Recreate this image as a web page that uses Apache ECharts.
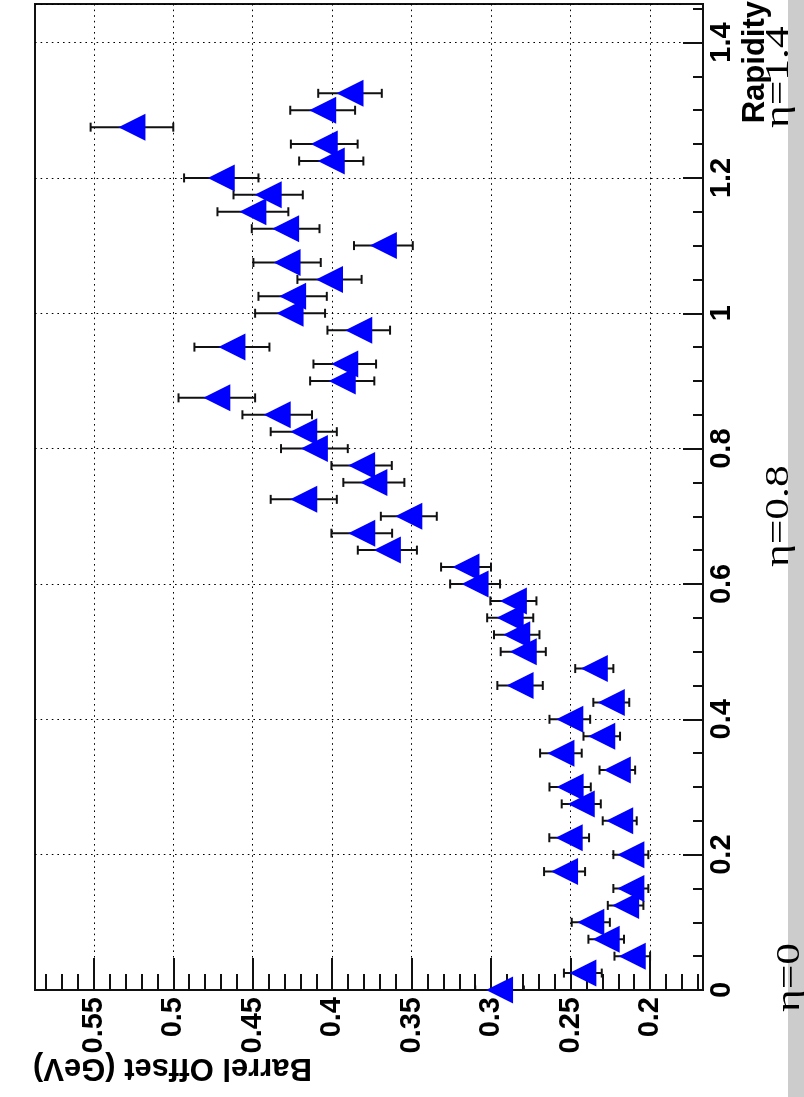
<!DOCTYPE html>
<html>
<head>
<meta charset="utf-8">
<script src="https://cdn.jsdelivr.net/npm/echarts@6/dist/echarts.min.js"></script>
<style>
html,body{margin:0;padding:0;background:#fff;}
#chart{width:804px;height:1097px;}
</style>
</head>
<body>
<div id="chart"></div>
<script>
// Rapidity bins (vertical axis in the rotated picture)
const rapidity = [0,0.025,0.05,0.075,0.1,0.125,0.15,0.175,0.2,0.225,0.25,0.275,0.3,0.325,0.35,0.375,0.4,0.425,0.45,0.475,0.5,0.525,0.55,0.575,0.6,0.625,0.65,0.675,0.7,0.725,0.75,0.775,0.8,0.825,0.85,0.875,0.9,0.925,0.95,0.975,1.0,1.025,1.05,1.075,1.1,1.125,1.15,1.175,1.2,1.225,1.25,1.275,1.3,1.325];
// Barrel offset (GeV)
const offset = [0.2947,0.2423,0.2112,0.2276,0.2373,0.2154,0.2121,0.2538,0.2121,0.2509,0.2191,0.2433,0.2503,0.2206,0.2561,0.2304,0.2505,0.2244,0.2818,0.2351,0.2798,0.2839,0.288,0.286,0.3101,0.3158,0.3653,0.3814,0.3518,0.4179,0.3738,0.3815,0.4112,0.4179,0.4346,0.4726,0.3937,0.3921,0.4631,0.3833,0.4265,0.4249,0.4017,0.4284,0.3678,0.4293,0.4499,0.4403,0.4698,0.4006,0.405,0.526,0.406,0.3888];
// Error on the offset (GeV)
const offsetErr = [0.0153,0.0119,0.0112,0.0112,0.012,0.0112,0.011,0.0129,0.011,0.0125,0.0107,0.0123,0.013,0.0112,0.0131,0.0115,0.0128,0.0113,0.0143,0.012,0.0142,0.0143,0.0145,0.0145,0.0157,0.0157,0.0186,0.0191,0.0176,0.0208,0.0192,0.019,0.021,0.0208,0.0219,0.0241,0.0202,0.0197,0.0236,0.0197,0.022,0.0215,0.0202,0.0212,0.0185,0.0213,0.0223,0.0218,0.0234,0.0202,0.021,0.026,0.0204,0.02];

const offsetMajorTicks = [0.2,0.25,0.3,0.35,0.4,0.45,0.5,0.55];
const offsetMinorTicks = [0.17,0.18,0.19,0.21,0.22,0.23,0.24,0.26,0.27,0.28,0.29,0.31,0.32,0.33,0.34,0.36,0.37,0.38,0.39,0.41,0.42,0.43,0.44,0.46,0.47,0.48,0.49,0.51,0.52,0.53,0.54,0.56,0.57,0.58];
const etaLabels = ['η=0','η=0.8','η=1.4'];
const xTitle = 'Barrel Offset (GeV)';
const yTitle = 'Rapidity';

const points = rapidity.map((r,i)=>[offset[i], r, offsetErr[i]]);

const chart = echarts.init(document.getElementById('chart'), null, {renderer:'canvas'});
const labelFont = {fontFamily:'"Liberation Sans", Arial, sans-serif', fontWeight:'bold', fontSize:29, color:'#000'};
const gridLine = {show:true, lineStyle:{color:'#000', width:1, type:[1.6,4]}};
const etaFont = '34px "Liberation Serif", "Times New Roman", serif';

chart.setOption({
  animation:false,
  backgroundColor:'#fff',
  grid:{left:35, top:4, width:668, height:986, show:true, borderColor:'#111', borderWidth:2, backgroundColor:'transparent'},
  xAxis:[
    {type:'value', min:0.1667, max:0.587, inverse:true, position:'bottom',
     axisLine:{show:true, onZero:false, lineStyle:{color:'#111', width:2}},
     axisTick:{show:true, inside:true, length:32, customValues:offsetMajorTicks, lineStyle:{color:'#111', width:2}},
     axisLabel:{show:true, customValues:offsetMajorTicks, rotate:90, margin:7, ...labelFont},
     splitLine:gridLine},
    {type:'value', min:0.1667, max:0.587, inverse:true, position:'bottom',
     axisLine:{show:false, onZero:false},
     axisTick:{show:true, inside:true, length:16, customValues:offsetMinorTicks, lineStyle:{color:'#111', width:2}},
     axisLabel:{show:false},
     splitLine:{show:false}}
  ],
  yAxis:{type:'value', min:0, max:1.457, interval:0.2, position:'right',
     axisLine:{show:true, onZero:false, lineStyle:{color:'#111', width:2}},
     axisTick:{show:true, inside:true, length:20, lineStyle:{color:'#111', width:2}},
     minorTick:{show:true, splitNumber:4, length:10, lineStyle:{color:'#111', width:2}},
     axisLabel:{show:true, rotate:90, margin:4, ...labelFont},
     splitLine:gridLine},
  series:[
    {type:'custom', xAxisIndex:0, yAxisIndex:0, clip:true, z:3,
     data:points,
     renderItem:function(params, api){
       const v = api.value(0), r = api.value(1), e = api.value(2);
       const lo = api.coord([v-e, r]);
       const hi = api.coord([v+e, r]);
       const cap = 4.5;
       const st = {stroke:'#111', lineWidth:2};
       return {type:'group', children:[
         {type:'line', shape:{x1:lo[0], y1:lo[1], x2:hi[0], y2:hi[1]}, style:st},
         {type:'line', shape:{x1:lo[0], y1:lo[1]-cap, x2:lo[0], y2:lo[1]+cap}, style:st},
         {type:'line', shape:{x1:hi[0], y1:hi[1]-cap, x2:hi[0], y2:hi[1]+cap}, style:st}
       ]};
     }},
    {type:'scatter', xAxisIndex:0, yAxisIndex:0, clip:false, z:5,
     data:points.map(p=>[p[0],p[1]]),
     symbol:'triangle', symbolSize:[27,27], symbolRotate:90,
     itemStyle:{color:'#0000ff', opacity:1}}
  ],
  graphic:[
    {type:'rect', z:-1, shape:{x:788, y:0, width:16, height:1097}, style:{fill:'#cccccc'}},
    {type:'text', x:312, y:1068, rotation:Math.PI,
     style:{text:xTitle, font:'bold 31px "Liberation Sans", Arial, sans-serif', fill:'#000', textAlign:'left', textVerticalAlign:'middle'}},
    {type:'text', x:755, y:1, rotation:Math.PI/2,
     style:{text:yTitle, font:'bold 31px "Liberation Sans", Arial, sans-serif', fill:'#000', textAlign:'right', textVerticalAlign:'middle'}},
    {type:'text', x:773, y:1012, rotation:Math.PI/2, scaleX:1.28,
     style:{text:etaLabels[0], font:etaFont, fill:'#000', textAlign:'left', textVerticalAlign:'top'}},
    {type:'text', x:762, y:567, rotation:Math.PI/2, scaleX:1.28,
     style:{text:etaLabels[1], font:etaFont, fill:'#000', textAlign:'left', textVerticalAlign:'top'}},
    {type:'text', x:762, y:128, rotation:Math.PI/2, scaleX:1.28,
     style:{text:etaLabels[2], font:etaFont, fill:'#000', textAlign:'left', textVerticalAlign:'top'}}
  ]
});
</script>
</body>
</html>
